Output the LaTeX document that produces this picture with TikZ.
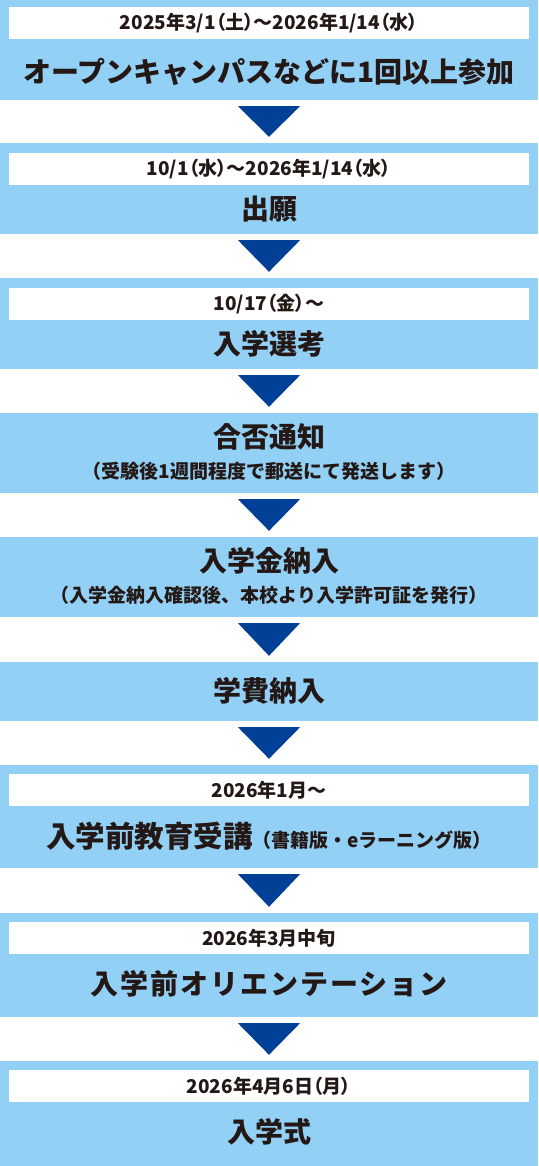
\documentclass[tikz,border=0pt]{standalone}
\usepackage{fontspec}
\newfontfamily\jp{Noto Sans CJK JP}
\newfontfamily\jpheavy{Noto Sans CJK JP Black}
\usetikzlibrary{positioning,calc}
\definecolor{boxblue}{HTML}{93D0F5}
\definecolor{arrowblue}{HTML}{004097}
\definecolor{ink}{HTML}{231815}

\begin{document}
\begin{tikzpicture}[
    x=1pt, y=-1pt,
    stage/.style={rectangle, fill=boxblue, minimum width=538pt, inner sep=0pt},
    datebar/.style={rectangle, fill=white, minimum width=520pt, minimum height=32pt, inner sep=0pt, text=ink, font=\jp\bfseries\addfontfeature{RawFeature=+palt}\fontsize{19}{19}\selectfont},
    title/.style={text=ink, inner sep=0pt, font=\jpheavy\fontsize{28}{28}\selectfont},
    note/.style={text=ink, inner sep=0pt, font=\jp\bfseries\fontsize{19}{19}\selectfont},
    tri/.style={fill=arrowblue}
]
\useasboundingbox (0,0) rectangle (538,1166);

% stages
\node[stage, minimum height=100pt] (open) at (269,50) {};
\node[stage, minimum height=91pt] (apply) at (269,188.5) {};
\node[stage, minimum height=91pt] (exam) at (269,323.5) {};
\node[stage, minimum height=80pt] (result) at (269,453) {};
\node[stage, minimum height=80pt] (fee) at (269,577) {};
\node[stage, minimum height=59pt] (tuition) at (269,691.5) {};
\node[stage, minimum height=103pt] (prep) at (269,816.5) {};
\node[stage, minimum height=104pt] (orient) at (269,965) {};
\node[stage, minimum height=105pt] (entry) at (269,1113.5) {};

% dates
\node[datebar] (open-date) at (269,23) {2025年3/1（土）～2026年1/14（水）};
\node[datebar] (apply-date) at (269,169) {10/1（水）～2026年1/14（水）};
\node[datebar] (exam-date) at (269,304) {10/17（金）～};
\node[datebar] (prep-date) at (269,790) {2026年1月～};
\node[datebar] (orient-date) at (269,938) {2026年3月中旬};
\node[datebar] (entry-date) at (269,1086) {2026年4月6日（月）};

% titles
\node[title] (open-title) at (269,72) {オープンキャンパスなどに1回以上参加};
\node[title] (apply-title) at (269,209.5) {出願};
\node[title] (exam-title) at (269,343.5) {入学選考};
\node[title] (result-title) at (269,436.5) {合否通知};
\node[note] (result-note) at (269,471) {（受験後1週間程度で郵送にて発送します）};
\node[title] (fee-title) at (269,561) {入学金納入};
\node[note] (fee-note) at (269,595) {（入学金納入確認後、本校より入学許可証を発行）};
\node[title] (tuition-title) at (269,691) {学費納入};
\node[title] (prep-title) at (269,836.5) {{\fontsize{29.5}{29.5}\selectfont 入学前教育受講}{\jp\bfseries\fontsize{19}{19}\selectfont（書籍版・eラーニング版）}};
\node[title] (orient-title) at (269,983.5) {\addfontfeature{LetterSpace=7}入学前オリエンテーション};
\node[title] (entry-title) at (269,1131.5) {入学式};

% arrows
\foreach \a/\b in {open/apply, apply/exam, exam/result, result/fee, fee/tuition, tuition/prep, prep/orient, orient/entry}
  \fill[tri] ($(\a.south)+(-31,6)$) -- ($(\a.south)+(31,6)$) -- ($(\b.north)+(0,-6)$) -- cycle;

\end{tikzpicture}
\end{document}
